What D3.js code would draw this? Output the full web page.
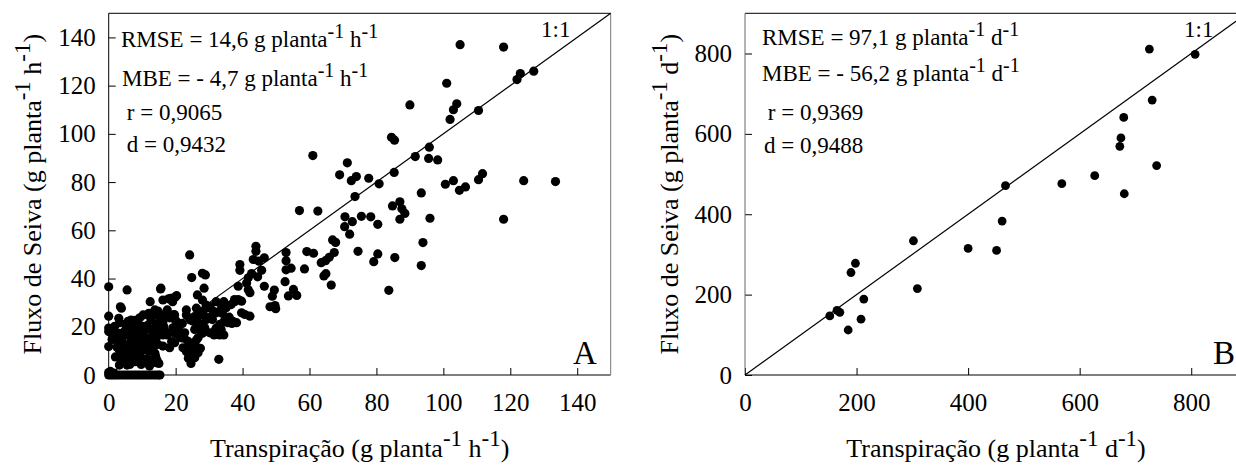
<!DOCTYPE html>
<html><head><meta charset="utf-8">
<script src="https://cdn.jsdelivr.net/npm/d3@7"></script>
<style>
body{margin:0;background:#fff}
svg{display:block}
text{font-family:"Liberation Serif","Times New Roman",serif;white-space:pre;fill:#000}
</style>
</head><body>
<svg id="c" width="1236" height="468" font-family="Liberation Serif"></svg>
<script>
// ---------- DATA ----------
const transpA = [105,118,101,122,123,127,90,104,103,110.5,102,84.5,85.4,95.8,91.6,95.6,98.3,61,71.3,69,72.5,74,77.7,80.8,85.3,100.6,103,104.8,106.6,110.5,111.7,124,133.5,118,73.6,93.4,57,62.5,84.8,87,87.6,88.5,87,96,70.6,72.8,75.5,78.3,70.5,80.4,72,93.9,93.4,85.5,74.5,80.4,79.2,83.7,66.9,67.8,67.4,65.9,64.8,63.5,59.2,61.2,58.5,64.3,64.9,66.5,53,53,54.5,53,53.7,55.2,56.2,52.7,
44,44,43.2,44.9,46.5,45.7,44.5,42.7,41.7,39.2,39.2,41.2,41.7,42.2,38.7,39.7,38.7,39.7,40.7,42.2,38.2,46.5,49.5,48.9,49.7,48.2,49.9,37.6,36.8,34.4,33.8,34.4,33.8,31.5,32.1,30.3,28,29.1,28.5,28,28.9,24.8,24.2,26.5,26.2,25.6,24.4,23.2,23.2,27.4,26.8,27.4,28,26.2,27.4,25.6,24.4,23.2,23.8,24.6,24.9,31.5,32.1,33.2,34.4,32.9,35.6,22,22.3,21.5,22.6,20.3,19.7,18.8,17.4,20.3,19.1,19.7,16.2,18.5,15.6,12.4,12,13.8,15,16.2,14.4,12.6,10.3,9.1,7.9,6.7,6.1,5.5,7.9,9.7,10.8,14.4,14.4,16.2,13.2,11.4,10.3,8.5,6.7,4.4,3.2,4.4,6.1,7.9,9.7,10.8,12,13.8,14.4,15,12,10.3,7.9,6.1,4.4,3.2,5.5,3.8,3.2,2,3.8,5.5,0,0,0,0,0,0.5,
25.2,26.7,28.2,29.7,25.7,27.7,29.2,30.7,32.2,33.6,35.1,36.6,37.6,28.7,30.2,31.7,33.6,33.2,35.6,37.1,26.7,25.7,22.7,23.7,22.2,23.7,24.7,25.7,26.7,19.7,18.2,16.2,19.2,17.7,20.7,21.7,14.2,15.7,12.7,14.7,16.2,17.2,18.2,19.5,11.7,13.7,17.9,19.9,15.5,5.8,7.8,9.3,6.8,8.8,10.2,3.5,3.3,1.8,4.8,3.3,2.8,1,4.3,5.8,7.3,8.8,10.8,12.7,14.2,3.8,6.3,9.7,12.2,7.8,9.7,11.2,13.2,14.7,6.8,8.8,11.7,13.7,
2,5,8,11,14,2.5,6,9.5,12.5,1.5,4,7,10,13,5,8.5,11.5,3,16.5,17.5,20,21,29,31,34,36,
0,0.7,1.4,2.1,2.8,3.6,4.4,5.2,6,6.8,7.6,8.4,9.2,10,10.8,11.6,12.4,13.2,14,14.8,15.3,0,1.5];
const seivaA = [137,136,121,122.5,125,126,112,112.5,110,109.7,106,98.6,97.4,94.5,90.6,89.8,89.2,91,88,83,80.6,82.3,81.6,79.3,84,79.1,80.6,76.6,78,81,83.5,80.6,80.2,64.6,74,75.5,68.2,68,70.1,71.8,68.9,67,64.6,65,65.6,63.6,65.8,65.6,61.5,62.5,58.4,54.9,45.4,48.7,51.3,50.2,47,35.1,56,55,50.8,48.8,47.4,46.6,51.2,50.5,44,41.1,42,37.3,50.8,47.4,44.3,43.6,32.8,35.5,33,38.7,
53.4,51.3,47.9,47.2,48.6,43.4,40.7,42.1,40.3,45.8,43.4,38.2,35.4,34.1,36.8,30.6,31.3,25.8,25.1,24.4,21.7,36.8,35.2,32.7,28.8,28.3,27.5,30.4,21.4,22.1,26.3,30.4,28.6,26.3,30.4,28.4,31.1,29,36,42.2,41.5,40.4,49.8,33.2,27.7,24.2,22.8,24.9,27,24.9,21.4,18.7,17.3,14.5,11.1,13.1,11.8,9.7,6.9,4.8,9,16.6,19.4,16.6,16.6,6.5,22.1,21.4,17.3,15.9,15.2,22.1,17.3,13.8,16.6,32.9,30.4,24.9,31.1,31.8,36,30.4,25.6,27,24.2,22.1,20.7,22.8,24.9,20.1,21.4,22.8,19.4,16.6,15.9,17.3,18.7,18.7,15.9,16.6,13.1,13.1,13.8,13.8,14.5,13.1,10.4,9,10.4,9,9.7,11.1,9.7,9,6.2,4.8,6.2,5.5,5.5,6.2,6.2,4.1,4.1,14.8,17.3,15.2,27.7,35.3,36.6,24.4,19.5,18,11.8,1.5,
22.3,24.4,26.5,27.9,18.9,21,23,24.4,25.8,27.2,27.9,29.2,31.3,19.6,17.5,18.2,18.9,21,21.7,22.3,9.2,7.2,17.5,14,11.3,9.2,10.6,12.7,15.4,13.4,11.3,12,19.6,17.5,16.8,15.4,21,18.9,18.9,26.5,24.4,25.8,23.7,25.1,25.1,25.1,31.6,32.4,35.7,22.3,22.7,23.7,18.2,18.9,20.2,28.3,21.7,20.2,18.2,16.8,12.7,14.7,10.6,9.2,8.1,7.2,6.5,5.8,5.1,6.5,4.4,4.4,3.7,12,13.4,11.3,10.6,12.7,15.4,14.7,15.4,16.1,
7.5,8,7,6.5,7.8,11.5,12,12.5,11,17,16,17.5,19,18.5,21,21.5,20.5,23.5,20,27,22.5,20,24,23,25.5,24,
0,0,0,0,0,0,0,0,0,0,0,0,0,0,0,0,0,0,0,0,0,1,0.8];

const transpB = [152,165,170,185,190,198,208,213,302,309,400,451,461,467,568,627,672,674,679,680,725,730,738,807];
const seivaB  = [147,161,156,112,255,278,139,189,334,215,315,310,383,471,476,496,569,590,641,451,811,684,521,798];

const ticksA = [0,20,40,60,80,100,120,140];
const ticksB = [0,200,400,600,800];

const statsA = [
  [["RMSE = 14,6 g planta"],["-1",1],[" h"],["-1",1]],
  [["MBE = - 4,7 g planta"],["-1",1],[" h"],["-1",1]],
  [[" r = 0,9065"]],
  [[" d = 0,9432"]]
];
const statsB = [
  [["RMSE = 97,1 g planta"],["-1",1],[" d"],["-1",1]],
  [["MBE = - 56,2 g planta"],["-1",1],[" d"],["-1",1]],
  [[" r = 0,9369"]],
  [["d = 0,9488"]]
];
const xTitleA = [["Transpiração (g planta"],["-1",1],[" h"],["-1",1],[")"]];
const yTitleA = [["Fluxo de Seiva (g planta"],["-1",1],[" h"],["-1",1],[")"]];
const xTitleB = [["Transpiração (g planta"],["-1",1],[" d"],["-1",1],[")"]];
const yTitleB = [["Fluxo de Seiva (g planta"],["-1",1],[" d"],["-1",1],[")"]];

// ---------- DRAW ----------
const svg = d3.select("#c");

function rich(sel, parts, size, supSize, supShift){
  let raised = false;
  parts.forEach(p=>{
    const ts = sel.append("tspan").text(p[0]);
    if(p[1]){
      ts.attr("font-size", supSize).attr("dy", raised ? 0 : -supShift);
      raised = true;
    } else {
      ts.attr("font-size", size).attr("dy", raised ? supShift : 0);
      raised = false;
    }
  });
}

function panel(o){
  const g = svg.append("g");
  const x = d3.scaleLinear().domain([0,o.max]).range([o.x0,o.x1]);
  const y = d3.scaleLinear().domain([0,o.max]).range([o.y1,o.y0]);

  const ax = g.append("g").attr("transform",`translate(0,${o.y1})`)
    .call(d3.axisBottom(x).tickValues(o.ticks).tickSizeInner(-7).tickSizeOuter(0).tickPadding(18));
  const ay = g.append("g").attr("transform",`translate(${o.x0},0)`)
    .call(d3.axisLeft(y).tickValues(o.ticks).tickSizeInner(-7).tickSizeOuter(0).tickPadding(13));
  [ax,ay].forEach(a=>{
    a.attr("font-family","Liberation Serif");
    a.select(".domain").remove();
    a.selectAll(".tick line").attr("stroke","#000").attr("stroke-width",1);
    a.selectAll(".tick text").attr("font-size",25).attr("fill","#000");
  });

  g.append("line").attr("x1",o.x0).attr("x2",o.x1).attr("y1",o.y0).attr("y2",o.y0).attr("stroke","#000");
  g.append("line").attr("x1",o.x0).attr("x2",o.x1).attr("y1",o.y1).attr("y2",o.y1).attr("stroke","#000");
  g.append("line").attr("x1",o.x0).attr("x2",o.x0).attr("y1",o.y0).attr("y2",o.y1).attr("stroke",o.leftCol);
  g.append("line").attr("x1",o.x1).attr("x2",o.x1).attr("y1",o.y0).attr("y2",o.y1).attr("stroke","#777");

  g.append("line").attr("x1",x(0)).attr("y1",y(0)).attr("x2",x(o.max)).attr("y2",y(o.max))
    .attr("stroke","#000").attr("stroke-width",1.2);

  g.append("g").selectAll("circle").data(o.xs.map((v,i)=>[v,o.ys[i]])).join("circle")
    .attr("cx",d=>x(d[0])).attr("cy",d=>y(d[1])).attr("r",o.r).attr("fill","#000");

  o.stats.forEach((s,i)=>{
    const t = g.append("text").attr("x",o.statX[i]).attr("y",o.statY[i]);
    rich(t,s,23,20,9);
  });
  g.append("text").attr("x",o.oneX).attr("y",o.oneY).attr("font-size",23).text("1:1");
  g.append("text").attr("x",o.letX).attr("y",o.letY).attr("font-size",33).text(o.letter);

  const xt = g.append("text").attr("x",(o.x0+o.x1)/2).attr("y",457).attr("text-anchor","middle");
  rich(xt,o.xTitle,26,23,11);
  const yt = g.append("text").attr("transform",`translate(${o.yTitleX},${(o.y0+o.y1)/2}) rotate(-90)`).attr("text-anchor","middle");
  rich(yt,o.yTitle,26,23,11);
}

panel({x0:108.7,x1:610.7,y0:13.3,y1:375,max:150,ticks:ticksA,xs:transpA,ys:seivaA,r:4.6,leftCol:"#000",
  stats:statsA,statX:[121,122,121,121],statY:[47,86,120,152],oneX:541,oneY:37,letX:573,letY:364,letter:"A",
  xTitle:xTitleA,yTitle:yTitleA,yTitleX:41});
panel({x0:745,x1:1247,y0:13.3,y1:375,max:900,ticks:ticksB,xs:transpB,ys:seivaB,r:4.4,leftCol:"#666",
  stats:statsB,statX:[762,762,762,764],statY:[45,81,120,153],oneX:1184,oneY:37,letX:1213,letY:364,letter:"B",
  xTitle:xTitleB,yTitle:yTitleB,yTitleX:678});
</script>
</body></html>
